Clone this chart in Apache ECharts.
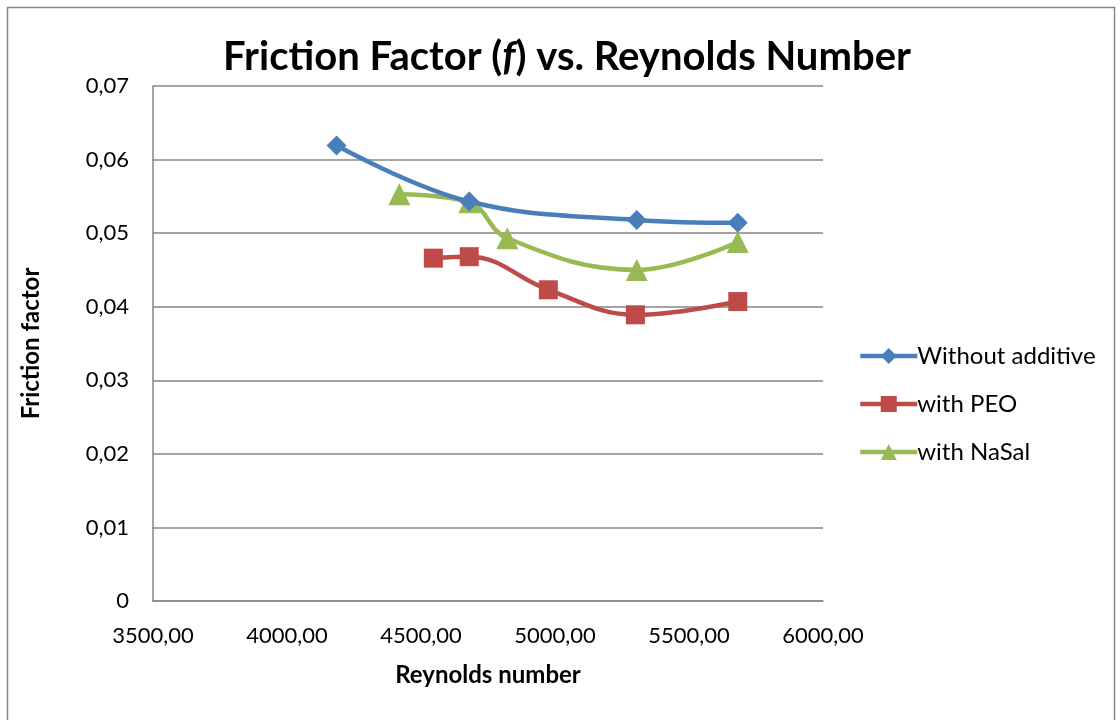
<!DOCTYPE html>
<html><head><meta charset="utf-8">
<script src="https://cdn.jsdelivr.net/npm/echarts@6/dist/echarts.min.js"></script>
<style>html,body{margin:0;padding:0;background:#fff}#c{width:1120px;height:720px}</style>
</head><body><div id="c"></div>
<script>
const seriesNames = ['Without additive', 'with PEO', 'with NaSal'];
const reWithout = [4185, 4680, 5305, 5682];
const fWithout = [0.0619, 0.0543, 0.0518, 0.0514];
const rePEO = [4546, 4680, 4975, 5300, 5682];
const fPEO = [0.0466, 0.0468, 0.0423, 0.0389, 0.0407];
const reNaSal = [4419, 4680, 4822, 5305, 5682];
const fNaSal = [0.0553, 0.0542, 0.0493, 0.0450, 0.0488];
const xTicks = { min: 3500, max: 6000, step: 500 };
const yTicks = { min: 0, max: 0.07, step: 0.01 };

const colors = ['#4a7ebb', '#be4b48', '#98b954'];
const symbols = ['diamond', 'rect', 'triangle'];
const symbolSizes = [20, 19, 22];
const FONT = 'Lato';

function pairs(xs, ys) { return xs.map((x, i) => [x, ys[i]]); }
const data = [pairs(reWithout, fWithout), pairs(rePEO, fPEO), pairs(reNaSal, fNaSal)];

const chart = echarts.init(document.getElementById('c'), null, { renderer: 'canvas' });
chart.setOption({
  animation: false,
  backgroundColor: '#fff',
  textStyle: { fontFamily: FONT },
  title: {
    text: '{n|Friction Factor (}{i|f}{n|) vs. Reynolds Number}',
    left: 562, top: 32, textAlign: 'center',
    textStyle: {
      rich: {
        n: { fontFamily: FONT, fontWeight: 'bold', fontSize: 40, color: '#000' },
        i: { fontFamily: FONT, fontWeight: 'bold', fontStyle: 'italic', fontSize: 40, color: '#000' }
      }
    }
  },
  graphic: [{
    type: 'rect', shape: { x: 7.5, y: 7.5, width: 1107, height: 730 },
    style: { fill: 'none', stroke: '#868686', lineWidth: 1.5 }, silent: true
  }],
  legend: {
    orient: 'vertical', left: 853, top: 339, itemGap: 24,
    itemWidth: 57, itemHeight: 20,
    lineStyle: { width: 4.5 },
    textStyle: { fontFamily: FONT, fontSize: 24, color: '#000', padding: [0, 0, 0, -5] },
    data: seriesNames
  },
  grid: { left: 153, right: 297, top: 86, bottom: 119, containLabel: false },
  xAxis: {
    type: 'value', min: xTicks.min, max: xTicks.max, interval: xTicks.step,
    name: 'Reynolds number', nameLocation: 'middle', nameGap: 62,
    nameTextStyle: { fontFamily: FONT, fontWeight: 'bold', fontSize: 24, color: '#000' },
    axisLine: { show: true, lineStyle: { color: '#868686', width: 1.5 } },
    axisTick: { show: false },
    splitLine: { show: false },
    axisLabel: { fontFamily: FONT, fontSize: 22, color: '#000', margin: 24,
      formatter: v => v.toFixed(2).replace('.', ',') }
  },
  yAxis: {
    type: 'value', min: yTicks.min, max: yTicks.max, interval: yTicks.step,
    name: 'Friction factor', nameLocation: 'middle', nameGap: 110, nameRotate: 90,
    nameTextStyle: { fontFamily: FONT, fontWeight: 'bold', fontSize: 24, color: '#000' },
    axisLine: { show: true, lineStyle: { color: '#868686', width: 1.5 } },
    axisTick: { show: false },
    splitLine: { show: true, lineStyle: { color: '#868686', width: 1.5 } },
    axisLabel: { fontFamily: FONT, fontSize: 22, color: '#000', margin: 24,
      formatter: v => v === 0 ? '0' : String(Math.round(v * 100) / 100).replace('.', ',') }
  },
  series: seriesNames.map((n, i) => ({
    name: n, type: 'line', data: data[i], smooth: 0.4,
    symbol: symbols[i], symbolSize: symbolSizes[i],
    lineStyle: { color: colors[i], width: 4.5 },
    itemStyle: { color: colors[i] },
    z: 3 - i
  }))
});
</script></body></html>
